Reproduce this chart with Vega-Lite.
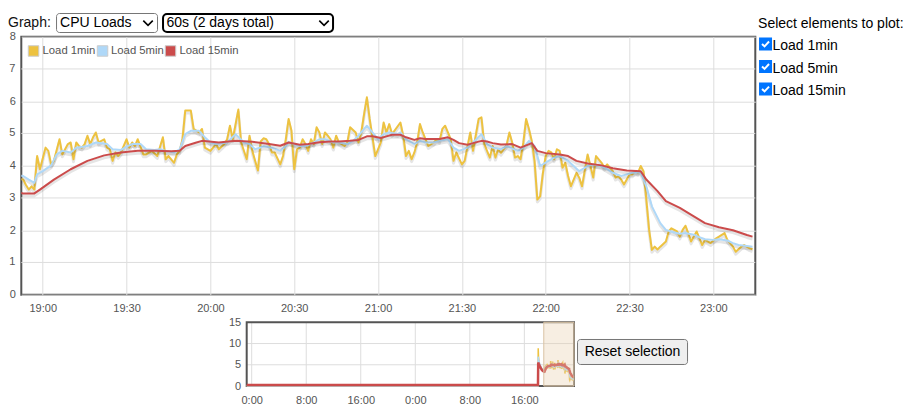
{
  "$schema": "https://vega.github.io/schema/vega-lite/v6.json",
  "width": 734,
  "height": 258,
  "autosize": {"type": "none"},
  "padding": {"left": 21.3, "top": 36.7, "right": 154.7, "bottom": 121.3},
  "config": {
    "font": "Liberation Sans",
    "view": {"stroke": "#545454", "strokeWidth": 2},
    "axis": {"ticks": false, "domain": false, "gridColor": "#dddddd", "labelFontSize": 11, "labelColor": "#545454", "labelFlush": false, "labelOverlap": false},
    "axisY": {"tickCount": 8}
  },
  "data": {"values": [
    {"s":"a","m":-1484,"v":0},{"s":"a","m":1080,"v":0},{"s":"a","m":1082,"v":8.9},{"s":"a","m":1085,"v":6.8},{"s":"a","m":1090,"v":5.5},{"s":"a","m":1100,"v":4.6},{"s":"a","m":1110,"v":4.1},{"s":"a","m":1122,"v":3.7},
    {"s":"a","m":1133,"v":3.57},{"s":"a","m":1134,"v":3.4},{"s":"a","m":1135,"v":3.26},{"s":"a","m":1136,"v":3.36},{"s":"a","m":1137,"v":3.26},{"s":"a","m":1138,"v":4.3},{"s":"a","m":1139,"v":3.89},{"s":"a","m":1141,"v":4.56},
    {"s":"a","m":1142,"v":4.46},{"s":"a","m":1143,"v":4.04},{"s":"a","m":1144,"v":4.15},{"s":"a","m":1146,"v":4.82},{"s":"a","m":1147,"v":4.35},{"s":"a","m":1149,"v":4.67},{"s":"a","m":1150,"v":4.72},{"s":"a","m":1151,"v":4.2},
    {"s":"a","m":1152,"v":4.72},{"s":"a","m":1153,"v":4.61},{"s":"a","m":1154,"v":4.56},{"s":"a","m":1155,"v":4.67},{"s":"a","m":1156,"v":4.93},{"s":"a","m":1157,"v":4.67},{"s":"a","m":1158,"v":4.88},{"s":"a","m":1159,"v":5.03},
    {"s":"a","m":1160,"v":4.72},{"s":"a","m":1162,"v":4.82},{"s":"a","m":1163,"v":4.56},{"s":"a","m":1164,"v":4.51},{"s":"a","m":1165,"v":4.15},{"s":"a","m":1166,"v":4.41},{"s":"a","m":1167,"v":4.3},{"s":"a","m":1168,"v":4.41},
    {"s":"a","m":1170,"v":4.82},{"s":"a","m":1171,"v":4.56},{"s":"a","m":1172,"v":4.72},{"s":"a","m":1173,"v":4.61},{"s":"a","m":1174,"v":4.82},{"s":"a","m":1176,"v":4.35},{"s":"a","m":1177,"v":4.35},{"s":"a","m":1179,"v":4.46},
    {"s":"a","m":1181,"v":4.3},{"s":"a","m":1183,"v":4.88},{"s":"a","m":1184,"v":4.2},{"s":"a","m":1185,"v":4.3},{"s":"a","m":1187,"v":4.09},{"s":"a","m":1188,"v":4.35},{"s":"a","m":1189,"v":4.46},{"s":"a","m":1190,"v":4.82},
    {"s":"a","m":1191,"v":5.71},{"s":"a","m":1193,"v":5.71},{"s":"a","m":1194,"v":5.14},{"s":"a","m":1196,"v":5.03},{"s":"a","m":1197,"v":5.14},{"s":"a","m":1198,"v":4.56},{"s":"a","m":1200,"v":4.46},{"s":"a","m":1202,"v":4.67},
    {"s":"a","m":1203,"v":4.51},{"s":"a","m":1205,"v":4.67},{"s":"a","m":1206,"v":4.82},{"s":"a","m":1207,"v":5.24},{"s":"a","m":1208,"v":4.82},{"s":"a","m":1210,"v":5.74},{"s":"a","m":1211,"v":4.72},{"s":"a","m":1213,"v":4.2},
    {"s":"a","m":1214,"v":4.93},{"s":"a","m":1215,"v":4.46},{"s":"a","m":1217,"v":3.85},{"s":"a","m":1218,"v":4.75},{"s":"a","m":1219,"v":4.85},{"s":"a","m":1220,"v":4.82},{"s":"a","m":1221,"v":4.67},{"s":"a","m":1222,"v":4.41},
    {"s":"a","m":1223,"v":4.41},{"s":"a","m":1225,"v":4.04},{"s":"a","m":1226,"v":4.3},{"s":"a","m":1227,"v":4.82},{"s":"a","m":1228,"v":5.45},{"s":"a","m":1229,"v":5.09},{"s":"a","m":1230,"v":3.89},{"s":"a","m":1231,"v":4.51},
    {"s":"a","m":1232,"v":4.56},{"s":"a","m":1233,"v":4.82},{"s":"a","m":1234,"v":4.67},{"s":"a","m":1235,"v":4.46},{"s":"a","m":1236,"v":4.82},{"s":"a","m":1237,"v":4.67},{"s":"a","m":1238,"v":5.19},{"s":"a","m":1239,"v":5.03},
    {"s":"a","m":1240,"v":4.67},{"s":"a","m":1241,"v":5.03},{"s":"a","m":1242,"v":4.93},{"s":"a","m":1243,"v":4.82},{"s":"a","m":1244,"v":4.56},{"s":"a","m":1245,"v":4.93},{"s":"a","m":1246,"v":4.72},{"s":"a","m":1248,"v":4.61},
    {"s":"a","m":1249,"v":4.72},{"s":"a","m":1250,"v":5.19},{"s":"a","m":1252,"v":5.03},{"s":"a","m":1253,"v":4.72},{"s":"a","m":1254,"v":5.03},{"s":"a","m":1255,"v":5.6},{"s":"a","m":1256,"v":6.12},{"s":"a","m":1257,"v":5.45},
    {"s":"a","m":1258,"v":4.88},{"s":"a","m":1259,"v":4.3},{"s":"a","m":1261,"v":4.72},{"s":"a","m":1262,"v":5.34},{"s":"a","m":1263,"v":5.03},{"s":"a","m":1264,"v":5.29},{"s":"a","m":1265,"v":4.98},{"s":"a","m":1268,"v":5.34},
    {"s":"a","m":1269,"v":4.93},{"s":"a","m":1270,"v":4.3},{"s":"a","m":1271,"v":4.46},{"s":"a","m":1272,"v":4.2},{"s":"a","m":1273,"v":4.41},{"s":"a","m":1274,"v":4.72},{"s":"a","m":1275,"v":5.29},{"s":"a","m":1276,"v":5.03},
    {"s":"a","m":1278,"v":4.61},{"s":"a","m":1280,"v":4.72},{"s":"a","m":1281,"v":4.82},{"s":"a","m":1282,"v":4.77},{"s":"a","m":1283,"v":5.14},{"s":"a","m":1284,"v":5.24},{"s":"a","m":1286,"v":4.82},{"s":"a","m":1287,"v":4.15},
    {"s":"a","m":1288,"v":4.41},{"s":"a","m":1290,"v":4.04},{"s":"a","m":1291,"v":4.15},{"s":"a","m":1293,"v":5.03},{"s":"a","m":1294,"v":4.46},{"s":"a","m":1296,"v":5.45},{"s":"a","m":1297,"v":5.5},{"s":"a","m":1298,"v":4.67},
    {"s":"a","m":1300,"v":4.25},{"s":"a","m":1301,"v":4.61},{"s":"a","m":1302,"v":4.25},{"s":"a","m":1303,"v":4.51},{"s":"a","m":1304,"v":4.4},{"s":"a","m":1306,"v":4.64},{"s":"a","m":1307,"v":5.03},{"s":"a","m":1308,"v":4.72},
    {"s":"a","m":1309,"v":4.25},{"s":"a","m":1310,"v":4.3},{"s":"a","m":1311,"v":4.2},{"s":"a","m":1312,"v":4.72},{"s":"a","m":1313,"v":5.45},{"s":"a","m":1314,"v":5.14},{"s":"a","m":1315,"v":4.77},{"s":"a","m":1316,"v":4.15},
    {"s":"a","m":1317,"v":2.95},{"s":"a","m":1318,"v":3.05},{"s":"a","m":1319,"v":3.78},{"s":"a","m":1320,"v":4.3},{"s":"a","m":1321,"v":4.46},{"s":"a","m":1322,"v":4.41},{"s":"a","m":1323,"v":4.2},{"s":"a","m":1324,"v":4.51},
    {"s":"a","m":1325,"v":4.46},{"s":"a","m":1326,"v":3.94},{"s":"a","m":1327,"v":4.09},{"s":"a","m":1328,"v":3.68},{"s":"a","m":1329,"v":3.36},{"s":"a","m":1331,"v":3.78},{"s":"a","m":1332,"v":3.63},{"s":"a","m":1333,"v":3.36},
    {"s":"a","m":1335,"v":4.35},{"s":"a","m":1336,"v":3.99},{"s":"a","m":1337,"v":3.63},{"s":"a","m":1338,"v":4.3},{"s":"a","m":1340,"v":4.09},{"s":"a","m":1341,"v":3.94},{"s":"a","m":1342,"v":4.04},{"s":"a","m":1344,"v":3.83},
    {"s":"a","m":1345,"v":3.63},{"s":"a","m":1346,"v":3.68},{"s":"a","m":1347,"v":3.57},{"s":"a","m":1348,"v":3.42},{"s":"a","m":1350,"v":3.73},{"s":"a","m":1351,"v":3.73},{"s":"a","m":1352,"v":3.83},{"s":"a","m":1353,"v":3.78},
    {"s":"a","m":1354,"v":3.99},{"s":"a","m":1355,"v":3.83},{"s":"a","m":1356,"v":2.95},{"s":"a","m":1357,"v":2.01},{"s":"a","m":1358,"v":1.39},{"s":"a","m":1359,"v":1.49},{"s":"a","m":1360,"v":1.4},{"s":"a","m":1361,"v":1.49},
    {"s":"a","m":1363,"v":1.65},{"s":"a","m":1364,"v":1.96},{"s":"a","m":1365,"v":2.06},{"s":"a","m":1367,"v":1.96},{"s":"a","m":1368,"v":1.8},{"s":"a","m":1369,"v":2.01},{"s":"a","m":1370,"v":2.14},{"s":"a","m":1371,"v":1.91},
    {"s":"a","m":1372,"v":1.65},{"s":"a","m":1374,"v":1.96},{"s":"a","m":1375,"v":1.75},{"s":"a","m":1376,"v":1.54},{"s":"a","m":1377,"v":1.7},{"s":"a","m":1379,"v":1.6},{"s":"a","m":1381,"v":1.75},{"s":"a","m":1382,"v":1.8},
    {"s":"a","m":1384,"v":1.91},{"s":"a","m":1385,"v":1.7},{"s":"a","m":1387,"v":1.49},{"s":"a","m":1388,"v":1.33},{"s":"a","m":1390,"v":1.49},{"s":"a","m":1391,"v":1.54},{"s":"a","m":1393,"v":1.44},{"s":"a","m":1394,"v":1.41},
    {"s":"b","m":-1484,"v":0},{"s":"b","m":1080,"v":0},{"s":"b","m":1082,"v":6.9},{"s":"b","m":1086,"v":6.2},{"s":"b","m":1095,"v":5.2},{"s":"b","m":1110,"v":4.3},{"s":"b","m":1125,"v":3.8},
    {"s":"b","m":1133,"v":3.68},{"s":"b","m":1135,"v":3.57},{"s":"b","m":1137,"v":3.47},{"s":"b","m":1138,"v":3.73},{"s":"b","m":1140,"v":3.83},{"s":"b","m":1143,"v":4.01},{"s":"b","m":1145,"v":4.35},{"s":"b","m":1147,"v":4.46},
    {"s":"b","m":1150,"v":4.41},{"s":"b","m":1152,"v":4.56},{"s":"b","m":1156,"v":4.61},{"s":"b","m":1159,"v":4.72},{"s":"b","m":1163,"v":4.67},{"s":"b","m":1165,"v":4.51},{"s":"b","m":1168,"v":4.49},{"s":"b","m":1170,"v":4.59},
    {"s":"b","m":1172,"v":4.67},{"s":"b","m":1175,"v":4.67},{"s":"b","m":1177,"v":4.51},{"s":"b","m":1180,"v":4.49},{"s":"b","m":1182,"v":4.51},{"s":"b","m":1184,"v":4.46},{"s":"b","m":1187,"v":4.41},{"s":"b","m":1189,"v":4.51},
    {"s":"b","m":1191,"v":4.98},{"s":"b","m":1193,"v":5.08},{"s":"b","m":1196,"v":5.08},{"s":"b","m":1198,"v":4.88},{"s":"b","m":1200,"v":4.72},{"s":"b","m":1202,"v":4.67},{"s":"b","m":1206,"v":4.72},{"s":"b","m":1209,"v":4.98},
    {"s":"b","m":1212,"v":4.72},{"s":"b","m":1214,"v":4.67},{"s":"b","m":1216,"v":4.51},{"s":"b","m":1219,"v":4.6},{"s":"b","m":1222,"v":4.56},{"s":"b","m":1225,"v":4.46},{"s":"b","m":1227,"v":4.61},{"s":"b","m":1228,"v":4.74},
    {"s":"b","m":1230,"v":4.67},{"s":"b","m":1232,"v":4.61},{"s":"b","m":1234,"v":4.61},{"s":"b","m":1237,"v":4.72},{"s":"b","m":1239,"v":4.82},{"s":"b","m":1241,"v":4.82},{"s":"b","m":1244,"v":4.72},{"s":"b","m":1246,"v":4.72},
    {"s":"b","m":1249,"v":4.67},{"s":"b","m":1251,"v":4.77},{"s":"b","m":1253,"v":4.93},{"s":"b","m":1255,"v":5.14},{"s":"b","m":1256,"v":5.24},{"s":"b","m":1258,"v":5.03},{"s":"b","m":1260,"v":4.82},{"s":"b","m":1262,"v":4.98},
    {"s":"b","m":1264,"v":5.03},{"s":"b","m":1267,"v":4.98},{"s":"b","m":1268,"v":5.03},{"s":"b","m":1270,"v":4.82},{"s":"b","m":1273,"v":4.67},{"s":"b","m":1275,"v":4.77},{"s":"b","m":1277,"v":4.72},{"s":"b","m":1280,"v":4.72},
    {"s":"b","m":1282,"v":4.77},{"s":"b","m":1285,"v":4.82},{"s":"b","m":1287,"v":4.56},{"s":"b","m":1289,"v":4.46},{"s":"b","m":1292,"v":4.56},{"s":"b","m":1294,"v":4.72},{"s":"b","m":1297,"v":4.98},{"s":"b","m":1299,"v":4.67},
    {"s":"b","m":1301,"v":4.56},{"s":"b","m":1304,"v":4.51},{"s":"b","m":1306,"v":4.61},{"s":"b","m":1310,"v":4.46},{"s":"b","m":1312,"v":4.56},{"s":"b","m":1314,"v":4.77},{"s":"b","m":1316,"v":4.61},{"s":"b","m":1318,"v":3.99},
    {"s":"b","m":1321,"v":4.15},{"s":"b","m":1323,"v":4.25},{"s":"b","m":1325,"v":4.3},{"s":"b","m":1328,"v":4.15},{"s":"b","m":1330,"v":3.99},{"s":"b","m":1332,"v":3.83},{"s":"b","m":1335,"v":3.99},{"s":"b","m":1337,"v":4.04},
    {"s":"b","m":1340,"v":3.99},{"s":"b","m":1342,"v":3.89},{"s":"b","m":1344,"v":3.78},{"s":"b","m":1347,"v":3.68},{"s":"b","m":1349,"v":3.73},{"s":"b","m":1351,"v":3.78},{"s":"b","m":1354,"v":3.8},{"s":"b","m":1356,"v":3.36},
    {"s":"b","m":1358,"v":2.74},{"s":"b","m":1361,"v":2.22},{"s":"b","m":1363,"v":2.01},{"s":"b","m":1366,"v":1.93},{"s":"b","m":1368,"v":1.89},{"s":"b","m":1370,"v":1.91},{"s":"b","m":1373,"v":1.86},{"s":"b","m":1375,"v":1.78},
    {"s":"b","m":1377,"v":1.72},{"s":"b","m":1380,"v":1.7},{"s":"b","m":1382,"v":1.72},{"s":"b","m":1385,"v":1.68},{"s":"b","m":1387,"v":1.6},{"s":"b","m":1389,"v":1.54},{"s":"b","m":1392,"v":1.51},{"s":"b","m":1394,"v":1.49},
    {"s":"c","m":-1484,"v":0},{"s":"c","m":1080,"v":0},{"s":"c","m":1082,"v":5.3},{"s":"c","m":1088,"v":4.9},{"s":"c","m":1100,"v":4.2},{"s":"c","m":1115,"v":3.5},
    {"s":"c","m":1133,"v":3.14},{"s":"c","m":1137,"v":3.14},{"s":"c","m":1139,"v":3.26},{"s":"c","m":1144,"v":3.57},{"s":"c","m":1150,"v":3.89},{"s":"c","m":1156,"v":4.15},{"s":"c","m":1162,"v":4.32},{"s":"c","m":1168,"v":4.41},
    {"s":"c","m":1174,"v":4.46},{"s":"c","m":1180,"v":4.46},{"s":"c","m":1186,"v":4.45},{"s":"c","m":1189,"v":4.46},{"s":"c","m":1191,"v":4.61},{"s":"c","m":1195,"v":4.72},{"s":"c","m":1197,"v":4.77},{"s":"c","m":1203,"v":4.72},
    {"s":"c","m":1209,"v":4.77},{"s":"c","m":1215,"v":4.74},{"s":"c","m":1221,"v":4.67},{"s":"c","m":1225,"v":4.62},{"s":"c","m":1228,"v":4.72},{"s":"c","m":1232,"v":4.65},{"s":"c","m":1235,"v":4.67},{"s":"c","m":1239,"v":4.73},
    {"s":"c","m":1243,"v":4.75},{"s":"c","m":1246,"v":4.75},{"s":"c","m":1250,"v":4.77},{"s":"c","m":1253,"v":4.8},{"s":"c","m":1256,"v":4.91},{"s":"c","m":1258,"v":4.91},{"s":"c","m":1261,"v":4.86},{"s":"c","m":1263,"v":4.91},
    {"s":"c","m":1265,"v":4.96},{"s":"c","m":1268,"v":4.96},{"s":"c","m":1270,"v":4.88},{"s":"c","m":1273,"v":4.8},{"s":"c","m":1275,"v":4.85},{"s":"c","m":1277,"v":4.83},{"s":"c","m":1282,"v":4.83},{"s":"c","m":1285,"v":4.88},
    {"s":"c","m":1287,"v":4.8},{"s":"c","m":1289,"v":4.7},{"s":"c","m":1292,"v":4.65},{"s":"c","m":1294,"v":4.7},{"s":"c","m":1297,"v":4.77},{"s":"c","m":1299,"v":4.75},{"s":"c","m":1301,"v":4.7},{"s":"c","m":1304,"v":4.66},
    {"s":"c","m":1308,"v":4.67},{"s":"c","m":1311,"v":4.56},{"s":"c","m":1315,"v":4.7},{"s":"c","m":1317,"v":4.46},{"s":"c","m":1320,"v":4.39},{"s":"c","m":1325,"v":4.35},{"s":"c","m":1328,"v":4.3},{"s":"c","m":1331,"v":4.15},
    {"s":"c","m":1335,"v":4.07},{"s":"c","m":1340,"v":4.01},{"s":"c","m":1344,"v":3.92},{"s":"c","m":1349,"v":3.85},{"s":"c","m":1354,"v":3.83},{"s":"c","m":1356,"v":3.57},{"s":"c","m":1360,"v":3.21},{"s":"c","m":1363,"v":2.9},
    {"s":"c","m":1368,"v":2.69},{"s":"c","m":1373,"v":2.43},{"s":"c","m":1377,"v":2.22},{"s":"c","m":1382,"v":2.09},{"s":"c","m":1387,"v":2.0},{"s":"c","m":1392,"v":1.85},{"s":"c","m":1394,"v":1.8}
  ]},
  "layer": [
    {
      "layer": [
        {"transform": [{"filter": {"field": "s", "equal": "a"}}],
         "mark": {"type": "line", "color": "#000000", "strokeOpacity": 0.1, "strokeWidth": 3, "yOffset": 2.4, "clip": true, "strokeJoin": "round"},
         "encoding": {
           "x": {"field": "m", "type": "quantitative", "scale": {"domain": [1132.33, 1395], "nice": false, "zero": false},
                 "axis": {"title": null, "orient": "bottom", "values": [1140,1170,1200,1230,1260,1290,1320,1350,1380], "labelExpr": "floor(datum.value/60) + ':' + (datum.value % 60 < 10 ? '0' : '') + (datum.value % 60)", "grid": true, "labelPadding": 8}},
           "y": {"field": "v", "type": "quantitative", "scale": {"domain": [0, 8], "nice": false, "zero": false},
                 "axis": {"title": null, "orient": "left", "values": [0,1,2,3,4,5,6,7,8], "tickCount": 8, "grid": true, "labelPadding": 6}}
         }},
        {"data": {"values": [{"g": 1}, {"g": 3}, {"g": 5}, {"g": 7}]},
         "mark": {"type": "rule", "color": "#dddddd", "strokeWidth": 1},
         "encoding": {"x": {"datum": 1132.33, "type": "quantitative"}, "x2": {"datum": 1395}, "y": {"field": "g", "type": "quantitative"}}},
        {"data": {"values": [{"g": 1}, {"g": 3}, {"g": 5}, {"g": 7}]},
         "mark": {"type": "text", "align": "right", "baseline": "middle", "fontSize": 11, "color": "#545454"},
         "encoding": {"x": {"datum": 1130.18, "type": "quantitative"}, "y": {"field": "g", "type": "quantitative"}, "text": {"field": "g", "type": "quantitative"}}},
        {"transform": [{"filter": {"field": "s", "equal": "a"}}], "mark": {"type": "line", "color": "#edc240", "strokeWidth": 2, "clip": true, "strokeJoin": "round"},
         "encoding": {"x": {"field": "m", "type": "quantitative"}, "y": {"field": "v", "type": "quantitative"}}},
        {"transform": [{"filter": {"field": "s", "equal": "b"}}], "mark": {"type": "line", "color": "#000000", "strokeOpacity": 0.1, "strokeWidth": 3, "yOffset": 2.4, "clip": true, "strokeJoin": "round"},
         "encoding": {"x": {"field": "m", "type": "quantitative"}, "y": {"field": "v", "type": "quantitative"}}},
        {"transform": [{"filter": {"field": "s", "equal": "b"}}], "mark": {"type": "line", "color": "#afd8f8", "strokeWidth": 2, "clip": true, "strokeJoin": "round"},
         "encoding": {"x": {"field": "m", "type": "quantitative"}, "y": {"field": "v", "type": "quantitative"}}},
        {"transform": [{"filter": {"field": "s", "equal": "c"}}], "mark": {"type": "line", "color": "#000000", "strokeOpacity": 0.1, "strokeWidth": 3, "yOffset": 2.4, "clip": true, "strokeJoin": "round"},
         "encoding": {"x": {"field": "m", "type": "quantitative"}, "y": {"field": "v", "type": "quantitative"}}},
        {"transform": [{"filter": {"field": "s", "equal": "c"}}], "mark": {"type": "line", "color": "#cb4b4b", "strokeWidth": 2, "clip": true, "strokeJoin": "round"},
         "encoding": {"x": {"field": "m", "type": "quantitative"}, "y": {"field": "v", "type": "quantitative"}}},

        {"data": {"values": [{"k": 1}]}, "mark": {"type": "point", "shape": "square", "filled": true, "color": "#edc240", "stroke": "#cccccc", "strokeWidth": 1, "size": 110, "opacity": 1},
         "encoding": {"x": {"datum": 1136.71, "type": "quantitative"}, "y": {"datum": 7.557, "type": "quantitative"}}},
        {"data": {"values": [{"k": 1}]}, "mark": {"type": "point", "shape": "square", "filled": true, "color": "#afd8f8", "stroke": "#cccccc", "strokeWidth": 1, "size": 110, "opacity": 1},
         "encoding": {"x": {"datum": 1161.4, "type": "quantitative"}, "y": {"datum": 7.557, "type": "quantitative"}}},
        {"data": {"values": [{"k": 1}]}, "mark": {"type": "point", "shape": "square", "filled": true, "color": "#cb4b4b", "stroke": "#cccccc", "strokeWidth": 1, "size": 110, "opacity": 1},
         "encoding": {"x": {"datum": 1185.73, "type": "quantitative"}, "y": {"datum": 7.557, "type": "quantitative"}}},
        {"data": {"values": [{"n": "Load 1min"}]}, "mark": {"type": "text", "align": "left", "baseline": "middle", "fontSize": 11.3, "color": "#545454"},
         "encoding": {"x": {"datum": 1139.93, "type": "quantitative"}, "y": {"datum": 7.557, "type": "quantitative"}, "text": {"field": "n"}}},
        {"data": {"values": [{"n": "Load 5min"}]}, "mark": {"type": "text", "align": "left", "baseline": "middle", "fontSize": 11.3, "color": "#545454"},
         "encoding": {"x": {"datum": 1164.44, "type": "quantitative"}, "y": {"datum": 7.557, "type": "quantitative"}, "text": {"field": "n"}}},
        {"data": {"values": [{"n": "Load 15min"}]}, "mark": {"type": "text", "align": "left", "baseline": "middle", "fontSize": 11.3, "color": "#545454"},
         "encoding": {"x": {"datum": 1188.95, "type": "quantitative"}, "y": {"datum": 7.557, "type": "quantitative"}, "text": {"field": "n"}}},

        {"data": {"values": [{"n": "Select elements to plot:"}]}, "mark": {"type": "text", "align": "left", "baseline": "middle", "fontSize": 14, "color": "#000000"},
         "encoding": {"x": {"datum": 1395.98, "type": "quantitative"}, "y": {"datum": 8.405, "type": "quantitative"}, "text": {"field": "n"}}},
        {"data": {"values": [{"k": 1}]}, "mark": {"type": "point", "shape": "M-1,-1L1,-1L1,1L-1,1ZM-0.645,0.107L-0.15,0.59L0.651,-0.279L0.429,-0.481L-0.15,0.17L-0.435,-0.107Z", "filled": true, "color": "#0075ff", "size": 169, "opacity": 1},
         "encoding": {"x": {"datum": 1398.66, "type": "quantitative"}, "y": {"datum": 7.774, "type": "quantitative"}}},
        {"data": {"values": [{"k": 1}]}, "mark": {"type": "point", "shape": "M-1,-1L1,-1L1,1L-1,1ZM-0.645,0.107L-0.15,0.59L0.651,-0.279L0.429,-0.481L-0.15,0.17L-0.435,-0.107Z", "filled": true, "color": "#0075ff", "size": 169, "opacity": 1},
         "encoding": {"x": {"datum": 1398.66, "type": "quantitative"}, "y": {"datum": 7.076, "type": "quantitative"}}},
        {"data": {"values": [{"k": 1}]}, "mark": {"type": "point", "shape": "M-1,-1L1,-1L1,1L-1,1ZM-0.645,0.107L-0.15,0.59L0.651,-0.279L0.429,-0.481L-0.15,0.17L-0.435,-0.107Z", "filled": true, "color": "#0075ff", "size": 169, "opacity": 1},
         "encoding": {"x": {"datum": 1398.66, "type": "quantitative"}, "y": {"datum": 6.378, "type": "quantitative"}}},
        {"data": {"values": [{"n": "Load 1min"}]}, "mark": {"type": "text", "align": "left", "baseline": "middle", "fontSize": 14, "color": "#000000"},
         "encoding": {"x": {"datum": 1401.16, "type": "quantitative"}, "y": {"datum": 7.698, "type": "quantitative"}, "text": {"field": "n"}}},
        {"data": {"values": [{"n": "Load 5min"}]}, "mark": {"type": "text", "align": "left", "baseline": "middle", "fontSize": 14, "color": "#000000"},
         "encoding": {"x": {"datum": 1401.16, "type": "quantitative"}, "y": {"datum": 7.0, "type": "quantitative"}, "text": {"field": "n"}}},
        {"data": {"values": [{"n": "Load 15min"}]}, "mark": {"type": "text", "align": "left", "baseline": "middle", "fontSize": 14, "color": "#000000"},
         "encoding": {"x": {"datum": 1401.16, "type": "quantitative"}, "y": {"datum": 6.302, "type": "quantitative"}, "text": {"field": "n"}}},

        {"data": {"values": [{"k": 1}]}, "mark": {"type": "rect", "fill": "#ffffff", "stroke": "#767676", "strokeWidth": 1, "cornerRadius": 3},
         "encoding": {"x": {"datum": 1144.94, "type": "quantitative"}, "x2": {"datum": 1181.08}, "y": {"datum": 8.719, "type": "quantitative"}, "y2": {"datum": 8.13}}},
        {"data": {"values": [{"k": 1}]}, "mark": {"type": "rect", "fill": "#ffffff", "stroke": "#000000", "strokeWidth": 2, "cornerRadius": 4},
         "encoding": {"x": {"datum": 1183.05, "type": "quantitative"}, "x2": {"datum": 1243.89}, "y": {"datum": 8.704, "type": "quantitative"}, "y2": {"datum": 8.146}}},
        {"data": {"values": [{"n": "Graph:"}]}, "mark": {"type": "text", "align": "left", "baseline": "middle", "fontSize": 14, "color": "#111111"},
         "encoding": {"x": {"datum": 1127.58, "type": "quantitative"}, "y": {"datum": 8.41, "type": "quantitative"}, "text": {"field": "n"}}},
        {"data": {"values": [{"n": "CPU Loads"}]}, "mark": {"type": "text", "align": "left", "baseline": "middle", "fontSize": 14, "color": "#000000"},
         "encoding": {"x": {"datum": 1146.19, "type": "quantitative"}, "y": {"datum": 8.41, "type": "quantitative"}, "text": {"field": "n"}}},
        {"data": {"values": [{"n": "60s (2 days total)"}]}, "mark": {"type": "text", "align": "left", "baseline": "middle", "fontSize": 14, "color": "#000000"},
         "encoding": {"x": {"datum": 1184.3, "type": "quantitative"}, "y": {"datum": 8.41, "type": "quantitative"}, "text": {"field": "n"}}},
        {"data": {"values": [{"k": 1}]}, "mark": {"type": "point", "shape": "M-1,-0.5L0,0.5L1,-0.5", "filled": false, "color": "#000000", "strokeWidth": 1.6, "size": 90, "opacity": 1},
         "encoding": {"x": {"datum": 1177.68, "type": "quantitative"}, "y": {"datum": 8.425, "type": "quantitative"}}},
        {"data": {"values": [{"k": 1}]}, "mark": {"type": "point", "shape": "M-1,-0.5L0,0.5L1,-0.5", "filled": false, "color": "#000000", "strokeWidth": 1.6, "size": 90, "opacity": 1},
         "encoding": {"x": {"datum": 1240.67, "type": "quantitative"}, "y": {"datum": 8.425, "type": "quantitative"}}},

        {"data": {"values": [{"k": 1}]}, "mark": {"type": "rect", "fill": "#efefef", "stroke": "#767676", "strokeWidth": 1, "cornerRadius": 3},
         "encoding": {"x": {"datum": 1331.38, "type": "quantitative"}, "x2": {"datum": 1370.75}, "y": {"datum": -1.389, "type": "quantitative"}, "y2": {"datum": -2.164}}},
        {"data": {"values": [{"n": "Reset selection"}]}, "mark": {"type": "text", "align": "center", "baseline": "middle", "fontSize": 14, "color": "#000000"},
         "encoding": {"x": {"datum": 1351.07, "type": "quantitative"}, "y": {"datum": -1.777, "type": "quantitative"}, "text": {"field": "n"}}}
      ]
    },
    {
      "layer": [
        {"data": {"values": [{"g": -1440}, {"g": -960}, {"g": -480}, {"g": 0}, {"g": 480}, {"g": 960}]},
         "mark": {"type": "rule", "color": "#dddddd", "strokeWidth": 1},
         "encoding": {
           "x": {"field": "g", "type": "quantitative", "scale": {"domain": [-1484, 1397], "nice": false, "zero": false, "range": [225.4, 552.7]},
                 "axis": {"title": null, "orient": "top", "offset": -366.3, "labelBaseline": "alphabetic", "labelPadding": 0, "values": [-1440, -960, -480, 0, 480, 960], "labelExpr": "((floor(datum.value/60) % 24 + 24) % 24) + ':00'", "grid": false}},
           "y": {"datum": 0, "type": "quantitative", "scale": {"domain": [0, 15], "nice": false, "zero": false, "range": [349.3, 285.6]},
                 "axis": {"title": null, "orient": "left", "offset": -225.4, "labelPadding": 6, "values": [0, 5, 10, 15], "grid": false}},
           "y2": {"datum": 15}
         }},
        {"data": {"values": [{"h": 5}, {"h": 10}]}, "mark": {"type": "rule", "color": "#dddddd", "strokeWidth": 1},
         "encoding": {"x": {"datum": -1484, "type": "quantitative"}, "x2": {"datum": 1397}, "y": {"field": "h", "type": "quantitative"}}},
        {"data": {"values": [{"k": 1}]}, "mark": {"type": "rect", "fillOpacity": 0, "stroke": "#545454", "strokeWidth": 2},
         "encoding": {"x": {"datum": -1484, "type": "quantitative"}, "x2": {"datum": 1397}, "y": {"datum": 0, "type": "quantitative"}, "y2": {"datum": 15}}},
        {"transform": [{"filter": {"field": "s", "equal": "a"}}], "mark": {"type": "line", "color": "#edc240", "strokeWidth": 1.5},
         "encoding": {"x": {"field": "m", "type": "quantitative"}, "y": {"field": "v", "type": "quantitative"}}},
        {"transform": [{"filter": {"field": "s", "equal": "b"}}], "mark": {"type": "line", "color": "#afd8f8", "strokeWidth": 1.5},
         "encoding": {"x": {"field": "m", "type": "quantitative"}, "y": {"field": "v", "type": "quantitative"}}},
        {"transform": [{"filter": {"field": "s", "equal": "c"}}], "mark": {"type": "line", "color": "#cb4b4b", "strokeWidth": 2.5, "yOffset": -1},
         "encoding": {"x": {"field": "m", "type": "quantitative"}, "y": {"field": "v", "type": "quantitative"}}},
        {"data": {"values": [{"k": 1}]}, "mark": {"type": "rect", "fill": "#e8cfac", "fillOpacity": 0.35, "stroke": "#d9c3a5", "strokeWidth": 1},
         "encoding": {"x": {"datum": 1131, "type": "quantitative"}, "x2": {"datum": 1397}, "y": {"datum": 0, "type": "quantitative"}, "y2": {"datum": 15}}}
      ]
    }
  ],
  "resolve": {"scale": {"x": "independent", "y": "independent"}, "axis": {"x": "independent", "y": "independent"}}
}
